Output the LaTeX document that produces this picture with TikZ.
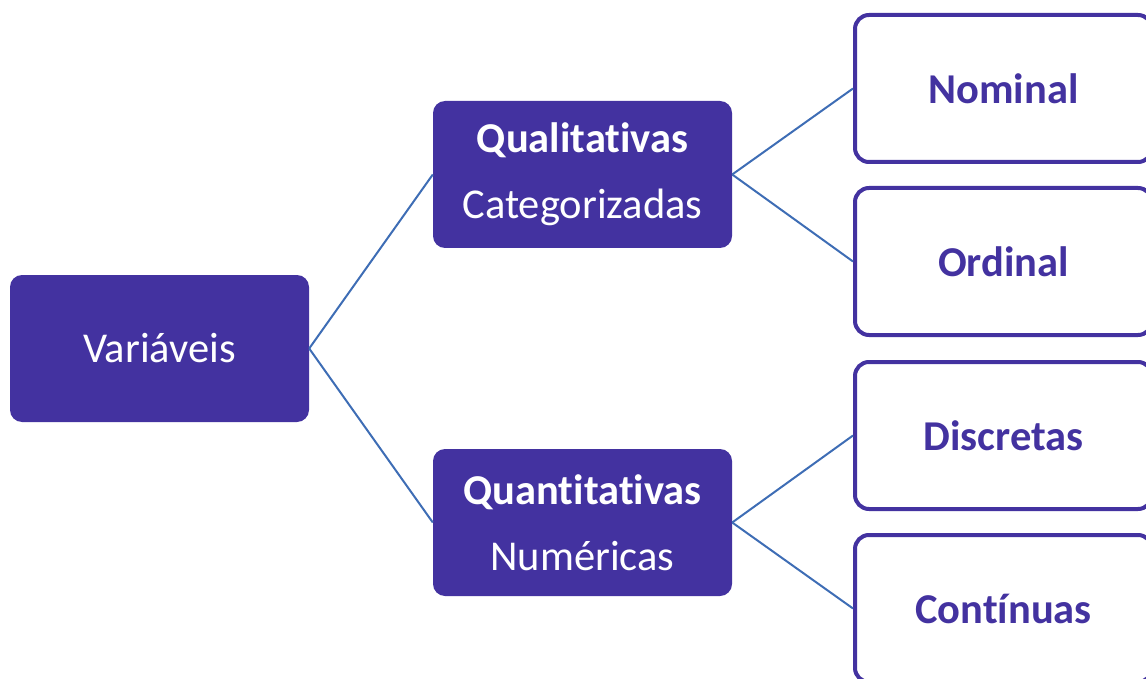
\documentclass[tikz,border=0pt]{standalone}
\usepackage{fontspec}
\setmainfont{Carlito}[Ligatures=NoCommon]
\usetikzlibrary{positioning}
\definecolor{roxo}{RGB}{67,50,160}
\definecolor{linha}{RGB}{62,109,181}

\begin{document}
\begin{tikzpicture}[x=1pt,y=-1pt,
    cheio/.style={fill=roxo, text=white, rounded corners=12pt,
        minimum width=299pt, minimum height=147pt, align=center,
        font=\fontsize{42.5}{66}\selectfont},
    vazio/.style={draw=roxo, line width=4pt, fill=white, text=roxo,
        rounded corners=14pt, minimum width=297pt, minimum height=147pt,
        font=\fontsize{42.5}{50}\selectfont\bfseries},
    ramo/.style={color=linha, line width=2pt}]
    \clip (0,0) rectangle (1146,679);
    \node[cheio] (var) at (159.5,348.5) {Variáveis};
    \node[cheio] (qual) at (582.5,174.5) {\textbf{Qualitativas}\\Categorizadas};
    \node[cheio] (quan) at (582.5,522.5) {\textbf{Quantitativas}\\Numéricas};
    \node[vazio] (nom) at (1003.5,88.5) {Nominal};
    \node[vazio] (ord) at (1003.5,261.5) {Ordinal};
    \node[vazio] (disc) at (1003.5,435.5) {Discretas};
    \node[vazio] (cont) at (1003.5,608.5) {Contínuas};
    \draw[ramo]
        (var.east) edge (qual.west)
        (var.east) edge (quan.west)
        (qual.east) edge (nom.west)
        (qual.east) edge (ord.west)
        (quan.east) edge (disc.west)
        (quan.east) edge (cont.west);
\end{tikzpicture}
\end{document}
